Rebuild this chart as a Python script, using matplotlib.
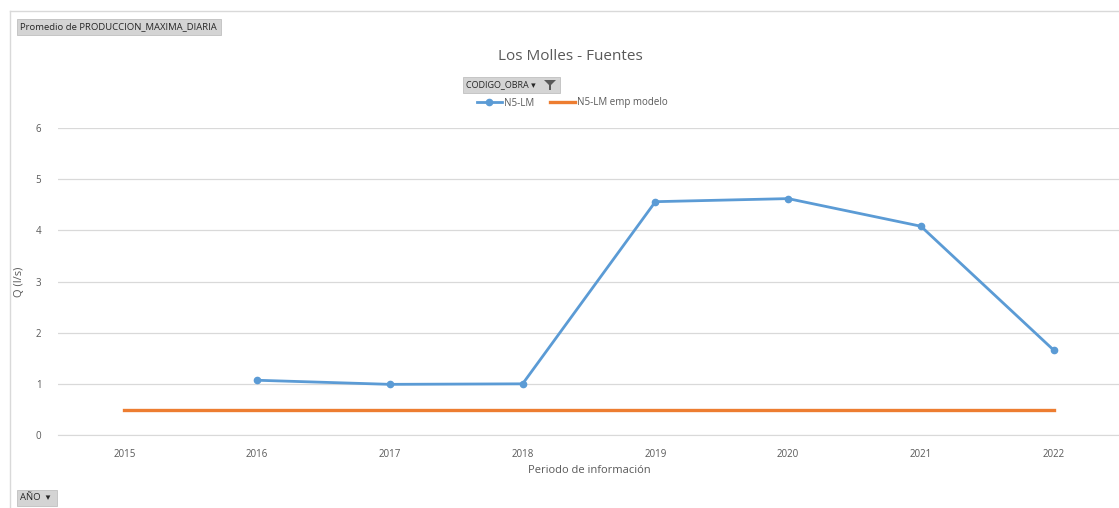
import numpy as np
import matplotlib
matplotlib.use("Agg")
import matplotlib.pyplot as plt
from matplotlib.patches import Rectangle, Polygon

plt.rcParams['font.family'] = ['Open Sans', 'DejaVu Sans']

# datos del grafico
anios = ['2015', '2016', '2017', '2018', '2019', '2020', '2021', '2022']
n5_lm = [np.nan, 1.07, 0.99, 1.00, 4.56, 4.62, 4.08, 1.66]
n5_lm_modelo = [0.48, 0.48, 0.48, 0.48, 0.48, 0.48, 0.48, 0.48]
y_ticks = [0, 1, 2, 3, 4, 5, 6]

W, H = 1119, 508
fig = plt.figure(figsize=(W / 100, H / 100), dpi=100)

def px(x0, y0, x1, y1):
    return [x0 / W, 1 - y1 / H, (x1 - x0) / W, (y1 - y0) / H]

ax = fig.add_axes(px(58, 128, 1120, 435))
x = np.arange(len(anios))
ax.plot(x, n5_lm, color='#5B9BD5', lw=2.0, marker='o', ms=4.5, label='N5-LM', zorder=3)
ax.plot(x, n5_lm_modelo, color='#ED7D31', lw=2.4, label='N5-LM emp modelo', zorder=2)

ax.set_xlim(-0.5, len(anios) - 0.5)
ax.set_ylim(0, 6)
ax.set_yticks(y_ticks)
ax.set_xticks(x)
ax.set_xticklabels(anios)
ax.grid(axis='y', color='#D9D9D9', lw=0.9)
ax.set_axisbelow(True)
for s in ['top', 'right', 'left']:
    ax.spines[s].set_visible(False)
ax.spines['bottom'].set_color('#D9D9D9')
ax.tick_params(length=0, labelsize=7, colors='#595959', pad=10)
ax.tick_params(axis='y', pad=12)
ax.set_xlabel('Periodo de información', fontsize=8, color='#595959', labelpad=4)
ax.set_ylabel('Q (l/s)', fontsize=8, color='#595959', labelpad=8)

fig.text(570 / W, 1 - 57 / H, 'Los Molles - Fuentes', ha='center', va='center',
         fontsize=11, color='#595959')

# leyenda
fig.legend(loc='center', bbox_to_anchor=(572 / W, 1 - 103 / H), ncol=2, frameon=False,
           fontsize=7, labelcolor='#595959', handlelength=2.6, columnspacing=1.6,
           handletextpad=0.2)

# marco del grafico
fig.add_artist(plt.Line2D([10 / W, 1], [1 - 11 / H] * 2, color='#D9D9D9', lw=1))
fig.add_artist(plt.Line2D([10 / W] * 2, [0, 1 - 11 / H], color='#D9D9D9', lw=1))

# botones de la tabla dinamica
def boton(x0, y0, x1, y1, texto, size=6.8):
    fig.add_artist(Rectangle((x0 / W, 1 - y1 / H), (x1 - x0) / W, (y1 - y0) / H,
                             transform=fig.transFigure, facecolor='#D4D4D4',
                             edgecolor='#C0C0C0', lw=0.6))
    fig.text((x0 + 3) / W, 1 - (y0 + y1) / 2 / H, texto, ha='left', va='center',
             fontsize=size, color='#262626')

boton(17, 19, 221, 35, 'Promedio de PRODUCCION_MAXIMA_DIARIA')
boton(463, 77, 560, 93, 'CODIGO_OBRA ▾', size=6.5)
boton(17, 490, 57, 506, 'AÑO  ▾')

# icono de filtro
fx, fy = 550, 84
fig.add_artist(Polygon([((fx - 6) / W, 1 - (fy - 4) / H), ((fx + 6) / W, 1 - (fy - 4) / H),
                        ((fx + 1) / W, 1 - (fy + 1) / H), ((fx + 1) / W, 1 - (fy + 6) / H),
                        ((fx - 1) / W, 1 - (fy + 6) / H), ((fx - 1) / W, 1 - (fy + 1) / H)],
                       closed=True, transform=fig.transFigure, facecolor='#595959', edgecolor='none'))

fig.savefig('out.png', dpi=100)
